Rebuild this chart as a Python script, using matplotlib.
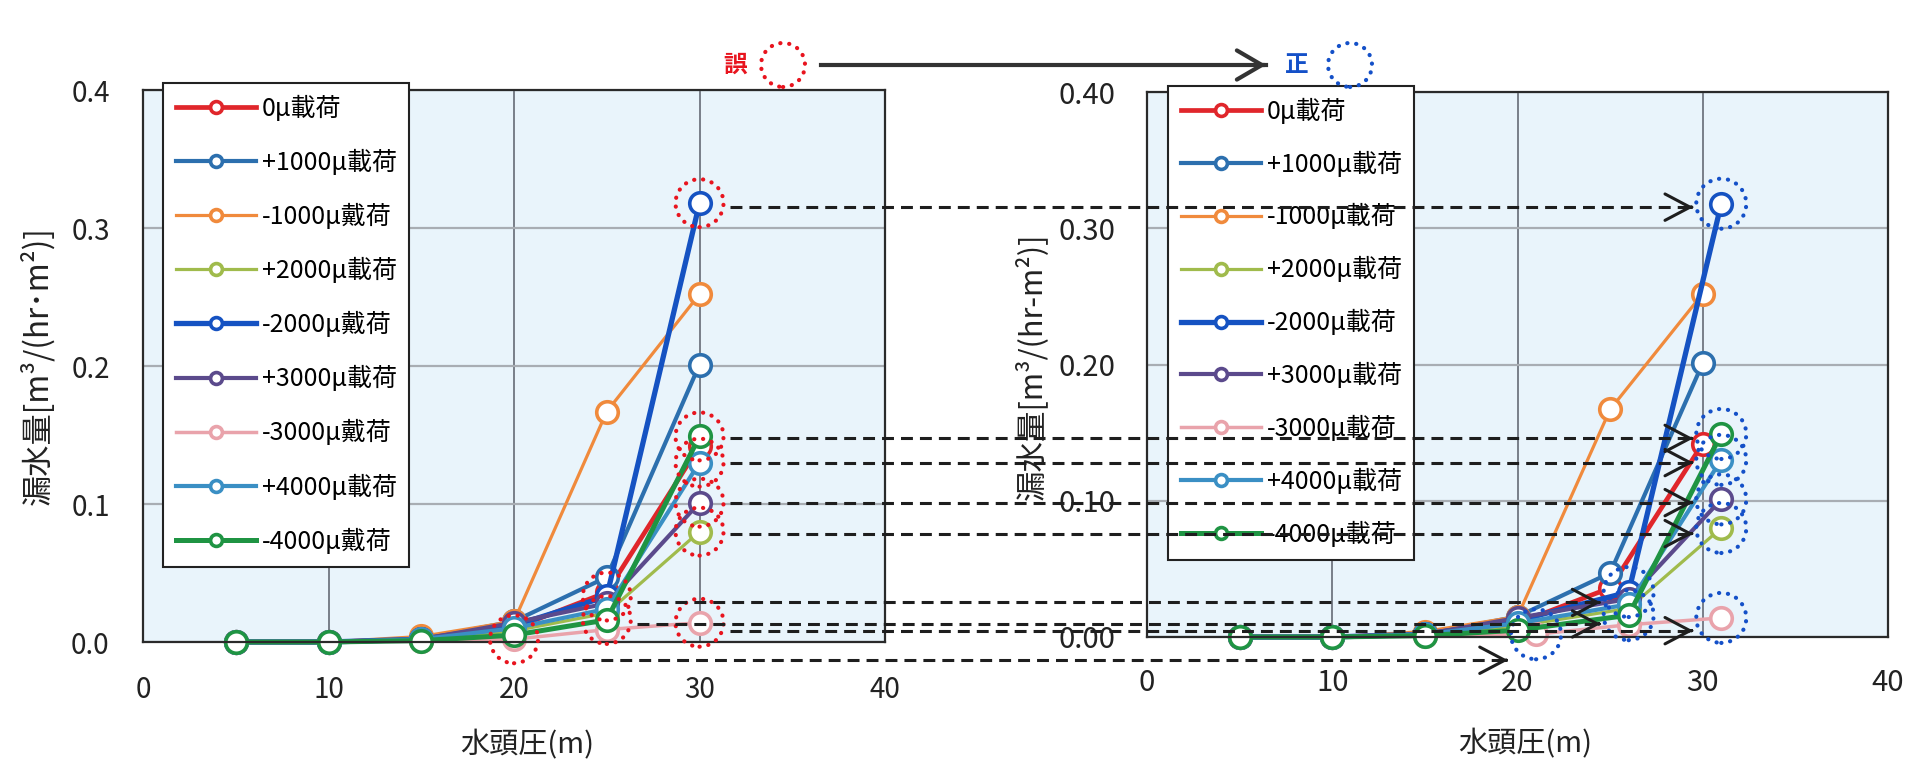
import matplotlib
matplotlib.use("Agg")
import matplotlib.pyplot as plt
from matplotlib.lines import Line2D
from matplotlib.patches import Ellipse, FancyArrowPatch
from matplotlib.ticker import FormatStrFormatter

plt.rcParams['font.family'] = ['Noto Sans CJK JP', 'DejaVu Sans']

# ---------------- data ----------------
head = [5, 10, 15, 20, 25, 30]                    # water head (m)
head_fix_a = [5, 10, 15, 20, 26, 31]              # corrected heads
head_fix_b = [5, 10, 15, 21, 26, 31]

labels_left = ["0μ載荷", "+1000μ載荷", "-1000μ戴荷", "+2000μ載荷", "-2000μ戴荷",
               "+3000μ載荷", "-3000μ戴荷", "+4000μ載荷", "-4000μ戴荷"]
labels_right = ["0μ載荷", "+1000μ載荷", "-1000μ載荷", "+2000μ載荷", "-2000μ載荷",
                "+3000μ載荷", "-3000μ載荷", "+4000μ載荷", "-4000μ載荷"]

leak_0     = [0.000, 0.000, 0.002, 0.010, 0.036, 0.142]
leak_p1000 = [0.000, 0.000, 0.002, 0.015, 0.047, 0.201]
leak_m1000 = [0.000, 0.000, 0.004, 0.015, 0.167, 0.252]
leak_p2000 = [0.000, 0.000, 0.002, 0.008, 0.021, 0.080]
leak_m2000 = [0.000, 0.000, 0.002, 0.012, 0.033, 0.318]
leak_p3000 = [0.000, 0.000, 0.002, 0.014, 0.028, 0.101]
leak_m3000 = [0.000, 0.000, 0.001, 0.002, 0.009, 0.014]
leak_p4000 = [0.000, 0.000, 0.002, 0.010, 0.024, 0.130]
leak_m4000 = [0.000, 0.000, 0.001, 0.005, 0.016, 0.149]

leaks = [leak_0, leak_p1000, leak_m1000, leak_p2000, leak_m2000,
         leak_p3000, leak_m3000, leak_p4000, leak_m4000]
heads_left = [head] * 9
heads_right = [head, head, head, head_fix_a, head_fix_a,
               head_fix_a, head_fix_b, head_fix_a, head_fix_a]

# corrected points: (series, point)
fixed_points = [(4, 5), (8, 5), (7, 5), (5, 5), (3, 5), (4, 4), (8, 4), (6, 5), (6, 3)]

# ---------------- style ----------------
colors = ['#e0262b', '#2c6fae', '#f08a3c', '#a0bb4c', '#1552c2',
          '#5b4a8c', '#e9a3ab', '#3a8fc4', '#1f9443']
widths = [3.4, 3.0, 2.3, 2.3, 3.8, 3.0, 2.5, 3.0, 3.6]

W, H = 1928, 767
fig = plt.figure(figsize=(W / 100, H / 100), dpi=100)
fig.patch.set_facecolor('white')


def px_rect(left, top, right, bottom):
    return [left / W, 1 - bottom / H, (right - left) / W, (bottom - top) / H]


axL = fig.add_axes(px_rect(143, 90, 885, 642))
axR = fig.add_axes(px_rect(1147, 92, 1888, 637))


def style_axes(ax, fmt, fs, xpad, ypad):
    ax.set_xlim(0, 40)
    ax.set_ylim(0, 0.4)
    ax.set_facecolor('#e9f4fb')
    ax.set_xticks([0, 10, 20, 30, 40])
    ax.set_yticks([0, 0.1, 0.2, 0.3, 0.4])
    ax.yaxis.set_major_formatter(FormatStrFormatter(fmt))
    ax.tick_params(length=0, labelsize=fs, colors='#222222')
    ax.tick_params(axis='x', pad=xpad)
    ax.tick_params(axis='y', pad=ypad)
    ax.xaxis.grid(True, color='#5a5f6a', lw=1.1)
    ax.yaxis.grid(True, color='#a8adb3', lw=1.6)
    ax.set_axisbelow(True)
    for s in ax.spines.values():
        s.set_color('#2a2a2a')
        s.set_linewidth(1.6)


style_axes(axL, '%.1f', 20, 24, 24)
style_axes(axR, '%.2f', 21, 22, 23)


def draw_series(ax, xs_list, labels):
    handles = []
    for xs, ys, c, lw, lab in zip(xs_list, leaks, colors, widths, labels):
        h, = ax.plot(xs, ys, color=c, lw=lw, marker='o', ms=15.5, mew=2.6,
                     mfc='white', mec=c, label=lab, clip_on=False)
        handles.append(h)
    return handles


hL = draw_series(axL, heads_left, labels_left)
hR = draw_series(axR, heads_right, labels_right)


def add_legend(ax, handles, left, top, spacing):
    leg = ax.legend(handles=handles, loc='upper left',
                    bbox_to_anchor=(left / W, 1 - top / H),
                    bbox_transform=fig.transFigure, borderaxespad=0,
                    fontsize=18, frameon=True, fancybox=False, framealpha=1,
                    edgecolor='#222222', markerscale=0.55, handlelength=3.2,
                    handletextpad=0.25, labelspacing=spacing, borderpad=0.5)
    leg.get_frame().set_linewidth(1.5)
    return leg


add_legend(axL, hL, 163, 83, 1.12)
add_legend(axR, hR, 1168, 86, 1.07)

# axis titles
ylab_L = "漏水量[m³/(hr･m²)]"
ylab_R = "漏水量[m³/(hr-m²)]"
xlab = "水頭圧(m)"
fig.text(37 / W, 1 - 366 / H, ylab_L, rotation=90, ha='center', va='center',
         fontsize=22.5, color='#222222')
fig.text(1031 / W, 1 - 366 / H, ylab_R, rotation=90, ha='center', va='center',
         fontsize=22, color='#222222')
fig.text(527 / W, 1 - 745 / H, xlab, ha='center', va='center', fontsize=21, color='#222222')
fig.text(1525 / W, 1 - 744 / H, xlab, ha='center', va='center', fontsize=21, color='#222222')

# ---------------- corrections overlay ----------------
to_fig = fig.transFigure.inverted()
R_PX = 24
dot_style = dict(fill=False, lw=3.0, linestyle=(0, (0.05, 2.1)), capstyle='round',
                 transform=fig.transFigure, zorder=6)


def to_px(ax, x, y):
    return ax.transData.transform((x, y))


def dotted_circle(cx, cy, r, color):
    fx, fy = to_fig.transform((cx, cy))
    fig.add_artist(Ellipse((fx, fy), 2 * r / W, 2 * r / H, edgecolor=color, **dot_style))


def chevron_arrow(x0, x1, y, lw, ls, color, hl, hw):
    a, b = to_fig.transform((x0, y)), to_fig.transform((x1, y))
    fig.add_artist(Line2D([a[0], b[0]], [a[1], b[1]], transform=fig.transFigure,
                          color=color, lw=lw, linestyle=ls, zorder=7))
    tail = to_fig.transform((x1 - 2, y))
    fig.add_artist(FancyArrowPatch(tail, b, transform=fig.transFigure,
                                   arrowstyle=f'->,head_length={hl},head_width={hw}',
                                   mutation_scale=10, lw=lw, color=color,
                                   shrinkA=0, shrinkB=0, zorder=7))


arrow_drop = [4, 2, 0, 0, 2, 6, 4, 8, 21]
for (si, pi), drop in zip(fixed_points, arrow_drop):
    y = leaks[si][pi]
    lx, ly = to_px(axL, heads_left[si][pi], y)
    rx, ry = to_px(axR, heads_right[si][pi], y)
    dotted_circle(lx, ly, R_PX, '#e8141e')
    dotted_circle(rx, ry, R_PX + 1, '#1450c8')
    chevron_arrow(lx + 30, rx - 28, ly - drop, 2.2, (0, (3.9, 2.3)), '#1e1e1e', 1.8, 0.95)

# header: wrong -> right
hy = H - 65
fig.text(735 / W, hy / H, "誤", color='#e8141e', fontsize=17, fontweight='bold',
         ha='center', va='center')
dotted_circle(783, hy, 22, '#e8141e')
chevron_arrow(821, 1266, hy, 3.0, '-', '#333333', 1.8, 1.05)
fig.text(1297 / W, hy / H, "正", color='#1450c8', fontsize=17, fontweight='bold',
         ha='center', va='center')
dotted_circle(1350, hy, 22, '#1450c8')

fig.savefig("out.png", dpi=100, facecolor='white')
